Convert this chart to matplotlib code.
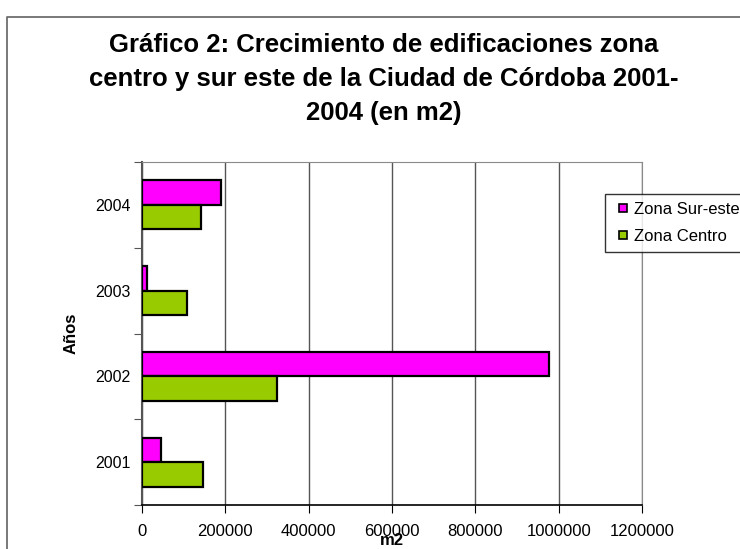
import matplotlib.pyplot as plt
from matplotlib.lines import Line2D

# Data (m2 built per year)
years = ['2001', '2002', '2003', '2004']
zona_sur_este = [46000, 977000, 13000, 189000]
zona_centro = [147000, 323000, 109000, 141000]
x_ticks = [0, 200000, 400000, 600000, 800000, 1000000, 1200000]

plt.rcParams['font.family'] = ['Liberation Sans', 'DejaVu Sans']

fig = plt.figure(figsize=(7.4, 5.49), dpi=100)
ax = fig.add_axes([142 / 740, 1 - 505 / 549, 500 / 740, 343 / 549])

# Outer frame of the chart area (only left and top edges are visible)
frame_left, frame_top = 7 / 740, 1 - 17 / 549
fig.add_artist(Line2D([frame_left, frame_left, 1.0], [0.0, frame_top, frame_top],
                      transform=fig.transFigure, color='#6e6e6e', linewidth=1.3))

pos = list(range(len(years)))
h = 0.285
ax.barh([p + h / 2 for p in pos], zona_sur_este, height=h, color='#FF00FF',
        edgecolor='black', linewidth=1.6, zorder=3)
ax.barh([p - h / 2 for p in pos], zona_centro, height=h, color='#99CC00',
        edgecolor='black', linewidth=1.6, zorder=3)

ax.set_xlim(0, 1200000)
ax.set_ylim(-0.5, 3.5)
ax.set_xticks(x_ticks)
ax.set_xticklabels([str(v) for v in x_ticks], fontsize=12)
ax.xaxis.grid(True, color='#555555', linewidth=1, zorder=0)

# category boundaries get the ticks, centres get the labels
ax.set_yticks([-0.5, 0.5, 1.5, 2.5, 3.5])
ax.set_yticklabels([])
ax.set_yticks(pos, minor=True)
ax.set_yticklabels(years, minor=True, fontsize=11.5)
ax.tick_params(axis='y', which='minor', length=0, pad=8)
ax.tick_params(axis='y', which='major', length=6, color='#555555', direction='out')
ax.tick_params(axis='x', length=6, direction='out', pad=8)

for side in ['top', 'right']:
    ax.spines[side].set_color('#8a8a8a')
ax.spines['left'].set_color('#555555')
ax.spines['left'].set_linewidth(1.5)
ax.spines['bottom'].set_color('black')
ax.spines['bottom'].set_linewidth(1.2)

ax.set_xlabel('m2', fontsize=12, fontweight='bold')
ax.xaxis.set_label_coords(0.5, (505 - 533) / 343)
ax.set_ylabel('Años', fontsize=12, fontweight='bold')
ax.yaxis.set_label_coords((79 - 142) / 500, 0.5)

fig.text(384 / 740, 1 - 79 / 549,
         'Gráfico 2: Crecimiento de edificaciones zona\n'
         'centro y sur este de la Ciudad de Córdoba 2001-\n'
         '2004 (en m2)',
         ha='center', va='center', fontsize=18.5, fontweight='bold',
         linespacing=1.52)

handles = [Line2D([], [], linestyle='none', marker='s', markersize=6,
                  markerfacecolor=c, markeredgecolor='black', markeredgewidth=1.2)
           for c in ['#FF00FF', '#99CC00']]
leg = fig.legend(handles, ['Zona Sur-este', 'Zona Centro'], loc='upper left',
                 bbox_to_anchor=(605 / 740, 1 - 194 / 549),
                 fontsize=12, frameon=True, fancybox=False, edgecolor='black',
                 handlelength=1.2, handletextpad=0.1,
                 borderpad=0.45, labelspacing=0.75, borderaxespad=0)
leg.get_frame().set_linewidth(1.0)

fig.savefig('out.png', dpi=100)
